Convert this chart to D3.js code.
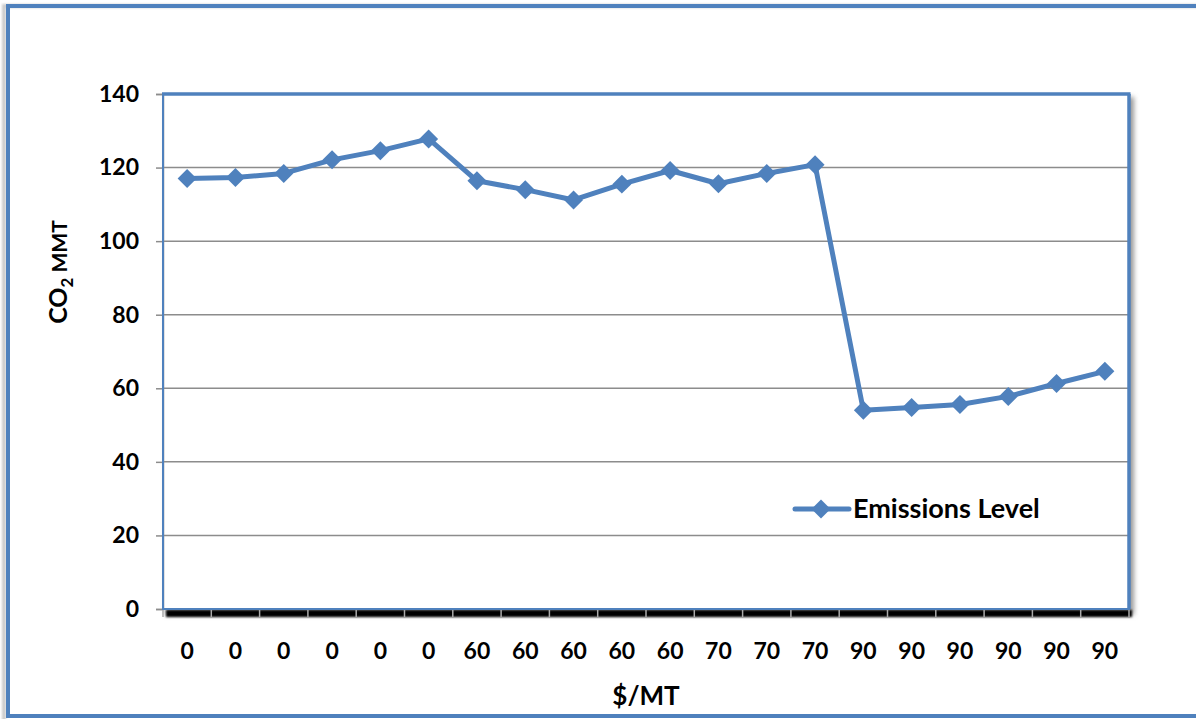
<!DOCTYPE html>
<html><head><meta charset="utf-8">
<script src="https://cdn.jsdelivr.net/npm/d3@7"></script>
<style>body{margin:0;background:#fff}svg{display:block}</style>
</head><body>
<svg id="c" width="1196" height="719"></svg>
<script>
const categories = ["0","0","0","0","0","0","60","60","60","60","60","70","70","70","90","90","90","90","90","90"];
const emissions = [117.0,117.3,118.4,122.1,124.6,127.8,116.4,114.0,111.2,115.5,119.2,115.6,118.4,120.8,54.0,54.8,55.6,57.8,61.3,64.6];
const yTicks = [0,20,40,60,80,100,120,140];
const seriesName = "Emissions Level";

(function(){
const svg = d3.select("#c");
const pL=163,pR=1129,pT=94,pB=609;
const blue="#4F81BD";
const font="Lato, 'Open Sans', sans-serif";

const defs=svg.append("defs");
const f=defs.append("filter").attr("id","blur").attr("x","-20%").attr("y","-20%").attr("width","140%").attr("height","140%");
f.append("feGaussianBlur").attr("stdDeviation",2.5);
const f2=defs.append("filter").attr("id","blur2").attr("x","-20%").attr("y","-20%").attr("width","140%").attr("height","140%");
f2.append("feGaussianBlur").attr("stdDeviation",1.2);

// outer chart border
svg.append("rect").attr("x",4).attr("y",6).attr("width",1240).attr("height",720).attr("fill","none").attr("stroke","#ccc").attr("stroke-width",4).attr("filter","url(#blur2)");
svg.append("rect").attr("x",8).attr("y",6).attr("width",1240).attr("height",710).attr("fill","none").attr("stroke",blue).attr("stroke-width",4);

const x=d3.scaleBand().domain(d3.range(categories.length)).range([pL,pR]).padding(0);
const y=d3.scaleLinear().domain([0,140]).range([pB,pT]);

// plot shadow
svg.append("rect").attr("x",pL+3).attr("y",pT+3).attr("width",pR-pL+2).attr("height",pB-pT+3).attr("fill","#999").attr("filter","url(#blur)");
// x-axis dark shadow band
svg.append("rect").attr("x",pL+3).attr("y",pB+1).attr("width",pR-pL).attr("height",7).attr("fill","#000").attr("filter","url(#blur2)");
svg.append("rect").attr("x",pL).attr("y",pT).attr("width",pR-pL).attr("height",pB-pT).attr("fill","#fff");

// gridlines
svg.append("g").selectAll("line").data(yTicks.filter(d=>d>0&&d<140)).join("line")
 .attr("x1",pL).attr("x2",pR).attr("y1",d=>y(d)).attr("y2",d=>y(d)).attr("stroke","#8c8c8c").attr("stroke-width",1.5);

// y axis
const ya=svg.append("g").attr("transform",`translate(${pL},0)`).call(d3.axisLeft(y).tickValues(yTicks).tickSize(7).tickPadding(17));
ya.select(".domain").attr("stroke","#8c8c8c").attr("stroke-width",1.5);
ya.selectAll(".tick line").attr("stroke","#8c8c8c").attr("stroke-width",1.5);
ya.selectAll("text").attr("font-family",font).attr("font-weight","bold").attr("font-size",23).attr("fill","#000");

// x axis ticks (light on dark band)
svg.append("g").selectAll("line").data(d3.range(categories.length+1)).join("line")
 .attr("x1",d=>d<categories.length?x(d):pR).attr("x2",d=>d<categories.length?x(d):pR)
 .attr("y1",pB).attr("y2",pB+8).attr("stroke","#aaa").attr("stroke-width",1.5);
svg.append("g").selectAll("text").data(categories).join("text")
 .attr("x",(d,i)=>x(i)+x.bandwidth()/2).attr("y",659).attr("text-anchor","middle")
 .attr("font-family",font).attr("font-weight","bold").attr("font-size",23).text(d=>d);

// plot border
svg.append("rect").attr("x",pL).attr("y",pT).attr("width",pR-pL).attr("height",pB-pT).attr("fill","none").attr("stroke",blue).attr("stroke-width",2);
svg.append("line").attr("x1",pL-1).attr("x2",pR+1.5).attr("y1",pT).attr("y2",pT).attr("stroke",blue).attr("stroke-width",3.5);
svg.append("line").attr("x1",pR).attr("x2",pR).attr("y1",pT).attr("y2",pB).attr("stroke",blue).attr("stroke-width",3.5);

// line
const line=d3.line().x((d,i)=>x(i)+x.bandwidth()/2).y(d=>y(d));
svg.append("path").datum(emissions).attr("d",line).attr("fill","none").attr("stroke",blue).attr("stroke-width",5).attr("stroke-linejoin","round");
const diamond=d3.symbol().type(d3.symbolDiamond2).size(230);
svg.append("g").selectAll("path").data(emissions).join("path")
 .attr("d",diamond).attr("transform",(d,i)=>`translate(${x(i)+x.bandwidth()/2},${y(d)})`).attr("fill",blue);

// legend
svg.append("line").attr("x1",795).attr("x2",849).attr("y1",509).attr("y2",509).attr("stroke",blue).attr("stroke-width",5).attr("stroke-linecap","round");
svg.append("path").attr("d",diamond).attr("transform","translate(821,509)").attr("fill",blue);
svg.append("text").attr("x",853).attr("y",518).attr("font-family",font).attr("font-weight","bold").attr("font-size",27).text(seriesName);

// axis titles
svg.append("text").attr("x",646).attr("y",705).attr("text-anchor","middle").attr("font-family",font).attr("font-weight","bold").attr("font-size",26).text("$/MT");
const yt=svg.append("text").attr("transform","translate(67,272) rotate(-90)").attr("text-anchor","middle").attr("font-family",font).attr("font-weight","bold").attr("font-size",25);
yt.append("tspan").text("CO");
yt.append("tspan").attr("font-size",17).attr("dy",6).text("2");
yt.append("tspan").attr("font-size",21).attr("dy",-6).text(" MMT");
})();
</script>
</body></html>
